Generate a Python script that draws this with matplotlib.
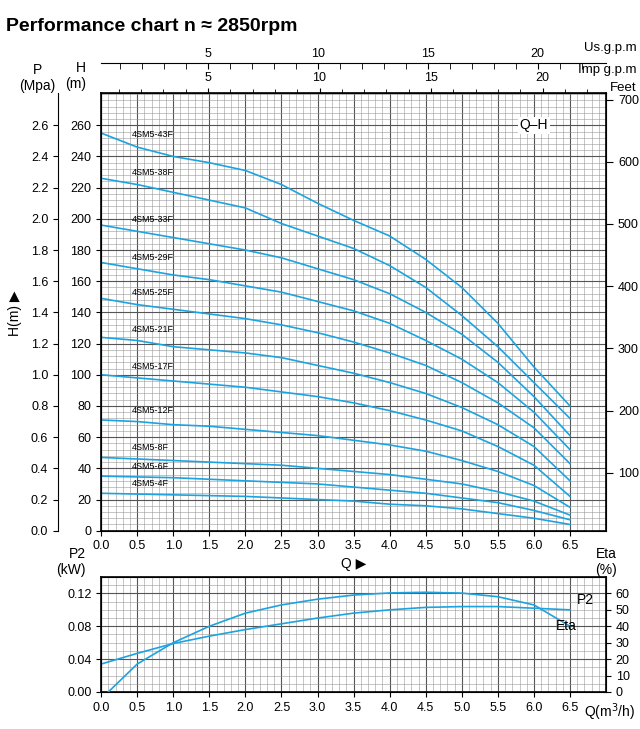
import numpy as np
import matplotlib.pyplot as plt
from matplotlib.ticker import MultipleLocator

q = [0.0, 0.5, 1.0, 1.5, 2.0, 2.5, 3.0, 3.5, 4.0, 4.5, 5.0, 5.5, 6.0, 6.5]
models = ['4SM5-43F', '4SM5-38F', '4SM5-33F', '4SM5-29F', '4SM5-25F', '4SM5-21F',
          '4SM5-17F', '4SM5-12F', '4SM5-8F', '4SM5-6F', '4SM5-4F']
heads = [
    [255, 246, 240, 236, 231, 222, 210, 199, 189, 174, 156, 133, 105, 80],
    [226, 222, 217, 212, 207, 197, 189, 181, 170, 156, 138, 118, 95, 72],
    [196, 192, 188, 184, 180, 175, 168, 161, 152, 140, 126, 108, 86, 61],
    [172, 168, 164, 161, 157, 153, 147, 141, 133, 122, 110, 95, 76, 52],
    [149, 145, 142, 139, 136, 132, 127, 121, 114, 106, 95, 82, 66, 43],
    [124, 122, 118, 116, 114, 111, 106, 101, 95, 88, 79, 68, 54, 32],
    [100, 98, 96, 94, 92, 89, 86, 82, 77, 71, 64, 54, 42, 22],
    [71, 70, 68, 67, 65, 63, 61, 58, 55, 51, 45, 38, 29, 15],
    [47, 46, 45, 44, 43, 42, 40, 38, 36, 33, 30, 25, 19, 10],
    [35, 34.5, 34, 33, 32, 31, 30, 28, 26, 24, 21, 18, 13, 7],
    [24, 23.5, 23, 22.5, 22, 21, 20, 19, 17, 16, 14, 11, 8, 4],
]
p2 = [0.034, 0.047, 0.059, 0.068, 0.076, 0.083, 0.090, 0.096, 0.100, 0.103, 0.104, 0.104, 0.102, 0.100]
q_eta = [0.1, 0.5, 1.0, 1.5, 2.0, 2.5, 3.0, 3.5, 4.0, 4.5, 5.0, 5.5, 6.0, 6.5]
eta = [0, 17, 30, 40, 48, 53, 56.5, 59, 60.3, 60.7, 60.2, 58, 53, 40]

blue = '#1ca3e0'
plt.rcParams['font.family'] = ['Liberation Sans', 'DejaVu Sans']
plt.rcParams['font.size'] = 9

fig = plt.figure(figsize=(6.4, 7.29), dpi=100)
fig.text(0.01, 0.975, 'Performance chart n \u2248 2850rpm', fontsize=14, fontweight='bold', va='top')


def grid(ax, ymaj, ymin):
    ax.xaxis.set_major_locator(MultipleLocator(0.5))
    ax.xaxis.set_minor_locator(MultipleLocator(0.1))
    ax.yaxis.set_major_locator(MultipleLocator(ymaj))
    ax.yaxis.set_minor_locator(MultipleLocator(ymin))
    ax.grid(which='major', color='#555555', lw=0.8)
    ax.grid(which='minor', color='#999999', lw=0.4)
    ax.tick_params(which='minor', length=0)
    for s in ax.spines.values():
        s.set_linewidth(1.2)


ax = fig.add_axes([0.158, 0.272, 0.789, 0.6])
ax.set_xlim(0, 7)
ax.set_ylim(0, 280.5)
grid(ax, 20, 4)
ax.set_yticks(range(0, 261, 20))
ax.set_xticks(np.arange(0, 6.6, 0.5))
ax.set_xticklabels([f'{v:.1f}' for v in np.arange(0, 6.6, 0.5)])
for name, h in zip(models, heads):
    ax.plot(q, h, color=blue, lw=1.2)
    ax.text(0.42, np.interp(0.42, q, h) + 4, name, fontsize=6.5, va='bottom')
ax.text(6.0, 260, 'Q\u2013H', fontsize=10, ha='center', va='center',
        bbox=dict(fc='white', ec='none', pad=1))
ax.text(3.5, -17, 'Q \u25b6', fontsize=10, ha='center', va='top')
ax.text(-0.03, 1.005, 'H\n(m)', transform=ax.transAxes, ha='right', va='bottom', fontsize=10)
fig.text(0.058, 0.872, 'P\n(Mpa)', ha='center', va='bottom', fontsize=10)
fig.text(0.012, 0.57, 'H(m) \u25b6', rotation=90, fontsize=10, va='center')

pax = ax.secondary_yaxis('left', functions=(lambda h: h / 100, lambda p: p * 100))
pax.spines['left'].set_position(('outward', 31))
pax.set_yticks(np.arange(0, 2.61, 0.2))
pax.set_yticklabels([f'{v:.1f}' for v in np.arange(0, 2.61, 0.2)])

fax = ax.twinx()
fax.set_ylim(7, 710)
fax.set_yticks(range(100, 701, 100))
fax.tick_params(length=5)

imp = ax.secondary_xaxis('top', functions=(lambda x: (72.2 * x + 4.7) / 22.33,
                                             lambda g: (22.33 * g - 4.7) / 72.2))
imp.set_xticks([5, 10, 15, 20])
imp.set_xticks(range(1, 23), minor=True)
imp.tick_params(which='minor', length=3)
us = ax.secondary_xaxis('top', functions=(lambda x: (72.2 * x + 3) / 22.0,
                                            lambda g: (22.0 * g - 3) / 72.2))
us.spines['top'].set_position(('outward', 22))
us.set_xticks([5, 10, 15, 20])
us.set_xticks(range(1, 23), minor=True)
us.tick_params(which='both', direction='in', length=4, pad=2)
fig.text(0.995, 0.93, 'Us.g.p.m', ha='right', fontsize=9.5)
fig.text(0.995, 0.9, 'Imp g.p.m', ha='right', fontsize=9.5)
fig.text(0.995, 0.875, 'Feet', ha='right', fontsize=9.5)

bx = fig.add_axes([0.158, 0.0508, 0.789, 0.1577])
bx.set_xlim(0, 7)
bx.set_ylim(0, 0.14)
grid(bx, 0.02, 0.01)
bx.set_yticks([0, 0.04, 0.08, 0.12])
bx.set_yticklabels(['0.00', '0.04', '0.08', '0.12'])
bx.set_xticks(np.arange(0, 6.6, 0.5))
bx.set_xticklabels([f'{v:.1f}' for v in np.arange(0, 6.6, 0.5)])
bx.plot(q, p2, color=blue, lw=1.2)
bx.text(6.6, 0.103, 'P2', fontsize=10, va='bottom')
bx.text(-0.03, 1.0, 'P2\n(kW)', transform=bx.transAxes, ha='right', va='bottom', fontsize=10)
ex = bx.twinx()
ex.set_ylim(0, 70)
ex.set_yticks(range(0, 61, 10))
ex.plot(q_eta, eta, color=blue, lw=1.2)
ex.text(6.3, 36, 'Eta', fontsize=10, va='bottom')
ex.text(1.0, 1.0, 'Eta\n(%)', transform=ex.transAxes, ha='center', va='bottom', fontsize=10)
bx.text(6.7, -0.012, 'Q(m$^3$/h)', fontsize=10, va='top')

fig.savefig('out.png', dpi=100)
